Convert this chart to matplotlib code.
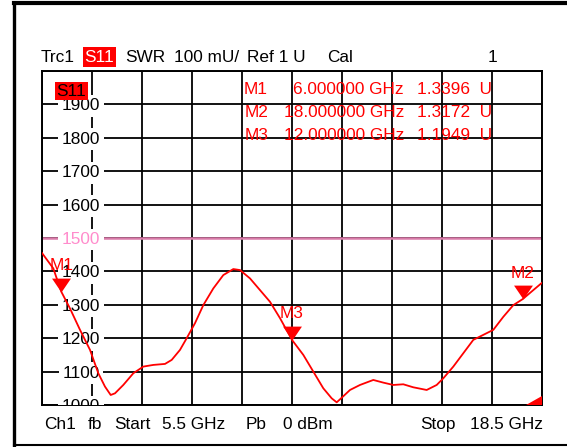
import matplotlib
matplotlib.use("Agg")
import matplotlib.pyplot as plt
from matplotlib.lines import Line2D
from matplotlib.patches import Polygon

plt.rcParams['font.family'] = ['Liberation Sans', 'DejaVu Sans']
FS = 12.4

# ---- data ----
freq_ghz = [5.5, 5.794, 6.0, 6.228, 6.488, 6.748, 6.964, 7.138, 7.286, 7.398, 7.614,
            7.874, 8.134, 8.394, 8.698, 8.872, 9.088, 9.262, 9.478, 9.694, 9.954,
            10.214, 10.474, 10.648, 10.908, 11.168, 11.428, 11.688, 12.0, 12.294,
            12.554, 12.814, 13.032, 13.162, 13.248, 13.508, 13.768, 14.114, 14.374,
            14.634, 14.894, 15.154, 15.502, 15.762, 15.934, 16.194, 16.454, 16.714,
            16.974, 17.234, 17.494, 17.754, 18.0, 18.274, 18.5]
swr_mu = [1455, 1409, 1339.6, 1289, 1225, 1165, 1095, 1055, 1030, 1035, 1060,
          1095, 1115, 1120, 1123, 1135, 1165, 1200, 1245, 1299, 1349,
          1389, 1407, 1404, 1379, 1344, 1309, 1260, 1194.9, 1150,
          1100, 1050, 1020, 1008, 1017, 1045, 1060, 1075, 1067,
          1060, 1062, 1053, 1045, 1060, 1080, 1115, 1155, 1195,
          1210, 1225, 1264, 1299, 1317.2, 1344, 1366]

marker_names = ["M1", "M2", "M3"]
marker_freq = [6.0, 18.0, 12.0]
marker_val = [1339.6, 1317.2, 1194.9]
marker_freq_txt = ["6.000000 GHz", "18.000000 GHz", "12.000000 GHz"]
marker_val_txt = ["1.3396  U", "1.3172  U", "1.1949  U"]

ytick_vals = [1000, 1100, 1200, 1300, 1400, 1500, 1600, 1700, 1800, 1900]
limit_val = 1500
f_start, f_stop = 5.5, 18.5
y_min, y_max = 1000, 2000

W, H = 567, 447
fig = plt.figure(figsize=(W / 100, H / 100), dpi=100)

def px(x):
    return x / W

def py(y):
    return 1 - y / H

ax = fig.add_axes([px(42), py(405), px(542) - px(42), py(71) - py(405)])
ax.set_xlim(f_start, f_stop)
ax.set_ylim(y_min, y_max)
ax.set_xticks([f_start + k * (f_stop - f_start) / 10 for k in range(11)])
ax.set_yticks([y_min + k * 100 for k in range(11)])
ax.tick_params(length=0, labelleft=False, labelbottom=False)
ax.grid(True, color='black', linewidth=1.3, zorder=1)
ax.set_axisbelow(True)
for s in ax.spines.values():
    s.set_color('black')
    s.set_linewidth(1.4)

# limit line
ax.axhline(limit_val, color='#d97aa9', linewidth=1.8, zorder=2)

# y labels with white background
tr = ax.get_yaxis_transform()
for v in ytick_vals:
    col = '#ff8ccc' if v == limit_val else 'black'
    ax.text(0.078, v, str(v), transform=tr, ha='center', va='center_baseline',
            fontsize=FS, color=col, zorder=3, clip_on=True,
            bbox=dict(boxstyle='square,pad=0.2', facecolor='white', edgecolor='none'))

# trace
ax.plot(freq_ghz, swr_mu, color='#ff0000', linewidth=1.3, zorder=4, clip_on=True)

# markers
tri = [(-0.68, 1.0), (0.68, 1.0), (0.0, 0.0)]
for name, f, v in zip(marker_names, marker_freq, marker_val):
    ax.plot([f], [v], marker=tri, markersize=20, color='#ff0000',
            markeredgewidth=0, zorder=5, linestyle='none')
    ax.annotate(name, (f, v), xytext=(0, 15.5), textcoords='offset points',
                ha='center', va='baseline', color='#ff0000', fontsize=FS, zorder=6)

# bottom-right indicator
ax.add_patch(Polygon([(0.968, 0.0), (1.0, 0.0), (1.0, 0.028)], closed=True,
                     transform=ax.transAxes, facecolor='#ff0000', edgecolor='none',
                     zorder=6, clip_on=False))

# S11 label inside plot
fig.text(px(71.5), py(91), 'S11', ha='center', va='center', fontsize=FS, color='black',
         zorder=10, bbox=dict(boxstyle='square,pad=0.08', facecolor='#ff0000', edgecolor='none'))

# header
hy = py(61.5)
fig.text(px(41), hy, 'Trc1', ha='left', va='baseline', fontsize=FS)
fig.text(px(99.5), hy, 'S11', ha='center', va='baseline', fontsize=FS, color='white',
         bbox=dict(boxstyle='square,pad=0.12', facecolor='#ff0000', edgecolor='none'))
fig.text(px(125), hy, 'SWR', ha='left', va='baseline', fontsize=FS)
fig.text(px(174), hy, '100 mU/', ha='left', va='baseline', fontsize=FS)
fig.text(px(247), hy, 'Ref 1 U', ha='left', va='baseline', fontsize=FS)
fig.text(px(327), hy, 'Cal', ha='left', va='baseline', fontsize=FS)
fig.text(px(497), hy, '1', ha='right', va='baseline', fontsize=FS)

# marker table
row_base = [94.5, 117, 139.5]
for name, ft, vt, yb in zip(marker_names, marker_freq_txt, marker_val_txt, row_base):
    fig.text(px(268), py(yb), name, ha='right', va='baseline', fontsize=FS, color='#ff0000', zorder=10)
    fig.text(px(404), py(yb), ft, ha='right', va='baseline', fontsize=FS, color='#ff0000', zorder=10)
    fig.text(px(492), py(yb), vt, ha='right', va='baseline', fontsize=FS, color='#ff0000', zorder=10)

# bottom text
by = py(429.3)
fig.text(px(44), by, 'Ch1', ha='left', va='baseline', fontsize=FS)
fig.text(px(88), by, 'fb', ha='left', va='baseline', fontsize=FS)
fig.text(px(114), by, 'Start', ha='left', va='baseline', fontsize=FS)
fig.text(px(162), by, '5.5 GHz', ha='left', va='baseline', fontsize=FS)
fig.text(px(246), by, 'Pb', ha='left', va='baseline', fontsize=FS)
fig.text(px(283), by, '0 dBm', ha='left', va='baseline', fontsize=FS)
fig.text(px(420), by, 'Stop', ha='left', va='baseline', fontsize=FS)
fig.text(px(543), by, '18.5 GHz', ha='right', va='baseline', fontsize=FS)

# outer frame
fig.add_artist(Line2D([px(13.5), px(567)], [py(2.5), py(2.5)], color='black', linewidth=3,
                      transform=fig.transFigure))
fig.add_artist(Line2D([px(13.5), px(13.5)], [py(2.5), py(445)], color='black', linewidth=2.4,
                      transform=fig.transFigure))
fig.add_artist(Line2D([px(13.5), px(567)], [py(445), py(445)], color='black', linewidth=1.5,
                      transform=fig.transFigure))

fig.savefig('out.png', dpi=100)
